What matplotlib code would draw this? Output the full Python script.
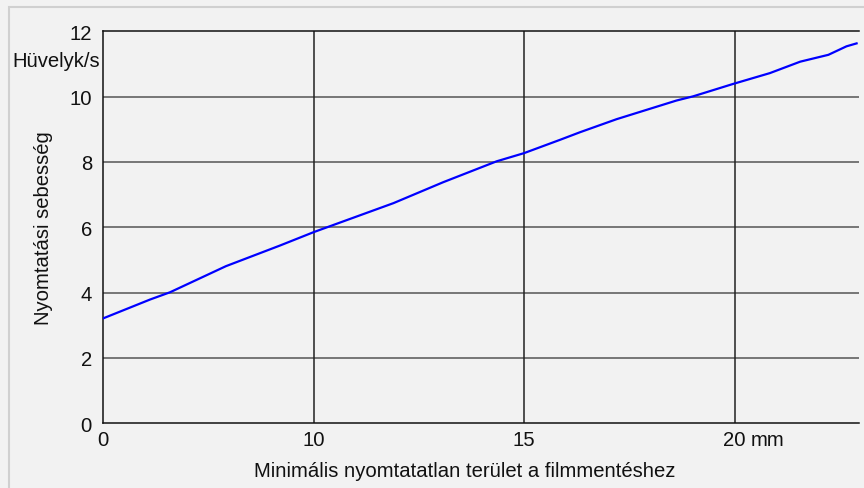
"""
Print speed vs. minimal unprinted area (film saving) line chart.
"""
import matplotlib as mpl
import matplotlib.pyplot as plt
from matplotlib.patches import Rectangle

# values (x in axis position units, left edge = 5)
AREA = [5.0, 6.12, 6.59, 7.92, 9.20, 10.0, 11.90, 13.08, 14.35, 15.0,
        15.86, 16.33, 17.20, 18.62, 19.02, 19.97, 20.84, 21.56, 22.23,
        22.66, 22.90]
SPEED = [3.21, 3.79, 4.01, 4.81, 5.44, 5.85, 6.74, 7.38, 8.02, 8.27,
         8.68, 8.91, 9.31, 9.88, 10.01, 10.39, 10.72, 11.07, 11.28,
         11.54, 11.63]

X_TICKS = [5, 10, 15, 20]
X_TICK_LABELS = ["0", "10", "15", "20"]
Y_TICKS = [0, 2, 4, 6, 8, 10, 12]

BG = "#f2f2f2"
FONT_SIZE = 14.6

mpl.rcParams["font.family"] = ["Liberation Sans", "DejaVu Sans"]


def main() -> None:
    fig = plt.figure(figsize=(8.64, 4.89), dpi=100, facecolor=BG)
    ax = fig.add_axes([103 / 864, 1 - 424.3 / 489,
                       (859 - 103) / 864, (424.3 - 32.3) / 489])
    ax.set_facecolor(BG)

    # thin frame round the whole picture
    fig.patches.append(Rectangle((9 / 864, -0.05), 1.2, 1 - 7.5 / 489 + 0.05,
                                 transform=fig.transFigure, fill=False,
                                 edgecolor="#d0d0d0", linewidth=1.5))

    ax.plot(AREA, SPEED, color="#0000ff", linewidth=1.6, zorder=3)

    ax.set_xlim(5, 5 + (859 - 103) / 42.1)
    ax.set_ylim(0, 12)
    ax.set_xticks(X_TICKS, X_TICK_LABELS)
    ax.set_yticks(Y_TICKS)
    ax.tick_params(length=0, labelsize=FONT_SIZE, colors="#111111")
    ax.tick_params(axis="y", pad=8)
    ax.tick_params(axis="x", pad=5)

    for y in Y_TICKS[1:-1]:
        ax.axhline(y, color="#555555", linewidth=1.1, zorder=1)
    for x in X_TICKS[1:]:
        ax.axvline(x, color="#222222", linewidth=1.1, zorder=1)

    for side in ("left", "bottom", "top"):
        ax.spines[side].set_color("#111111")
        ax.spines[side].set_linewidth(1.1)
    ax.spines["right"].set_visible(False)

    ax.annotate("mm", xy=(20, 0), xycoords="data", xytext=(12, -5),
                textcoords="offset points", ha="left", va="top",
                fontsize=FONT_SIZE, color="#111111")
    ax.annotate("Hüvelyk/s", xy=(0, 11.1), xycoords=("axes fraction", "data"),
                xytext=(-2, 0), textcoords="offset points", ha="right",
                va="center", fontsize=FONT_SIZE, color="#111111")

    ax.set_xlabel("Minimális nyomtatatlan terület a filmmentéshez",
                  fontsize=FONT_SIZE, color="#111111")
    ax.xaxis.set_label_coords(0.479, -0.095)
    ax.set_ylabel("Nyomtatási sebesség", fontsize=FONT_SIZE,
                  color="#111111", labelpad=12)

    fig.savefig("out.png", dpi=100, facecolor=BG)
    plt.close(fig)


if __name__ == "__main__":
    main()
